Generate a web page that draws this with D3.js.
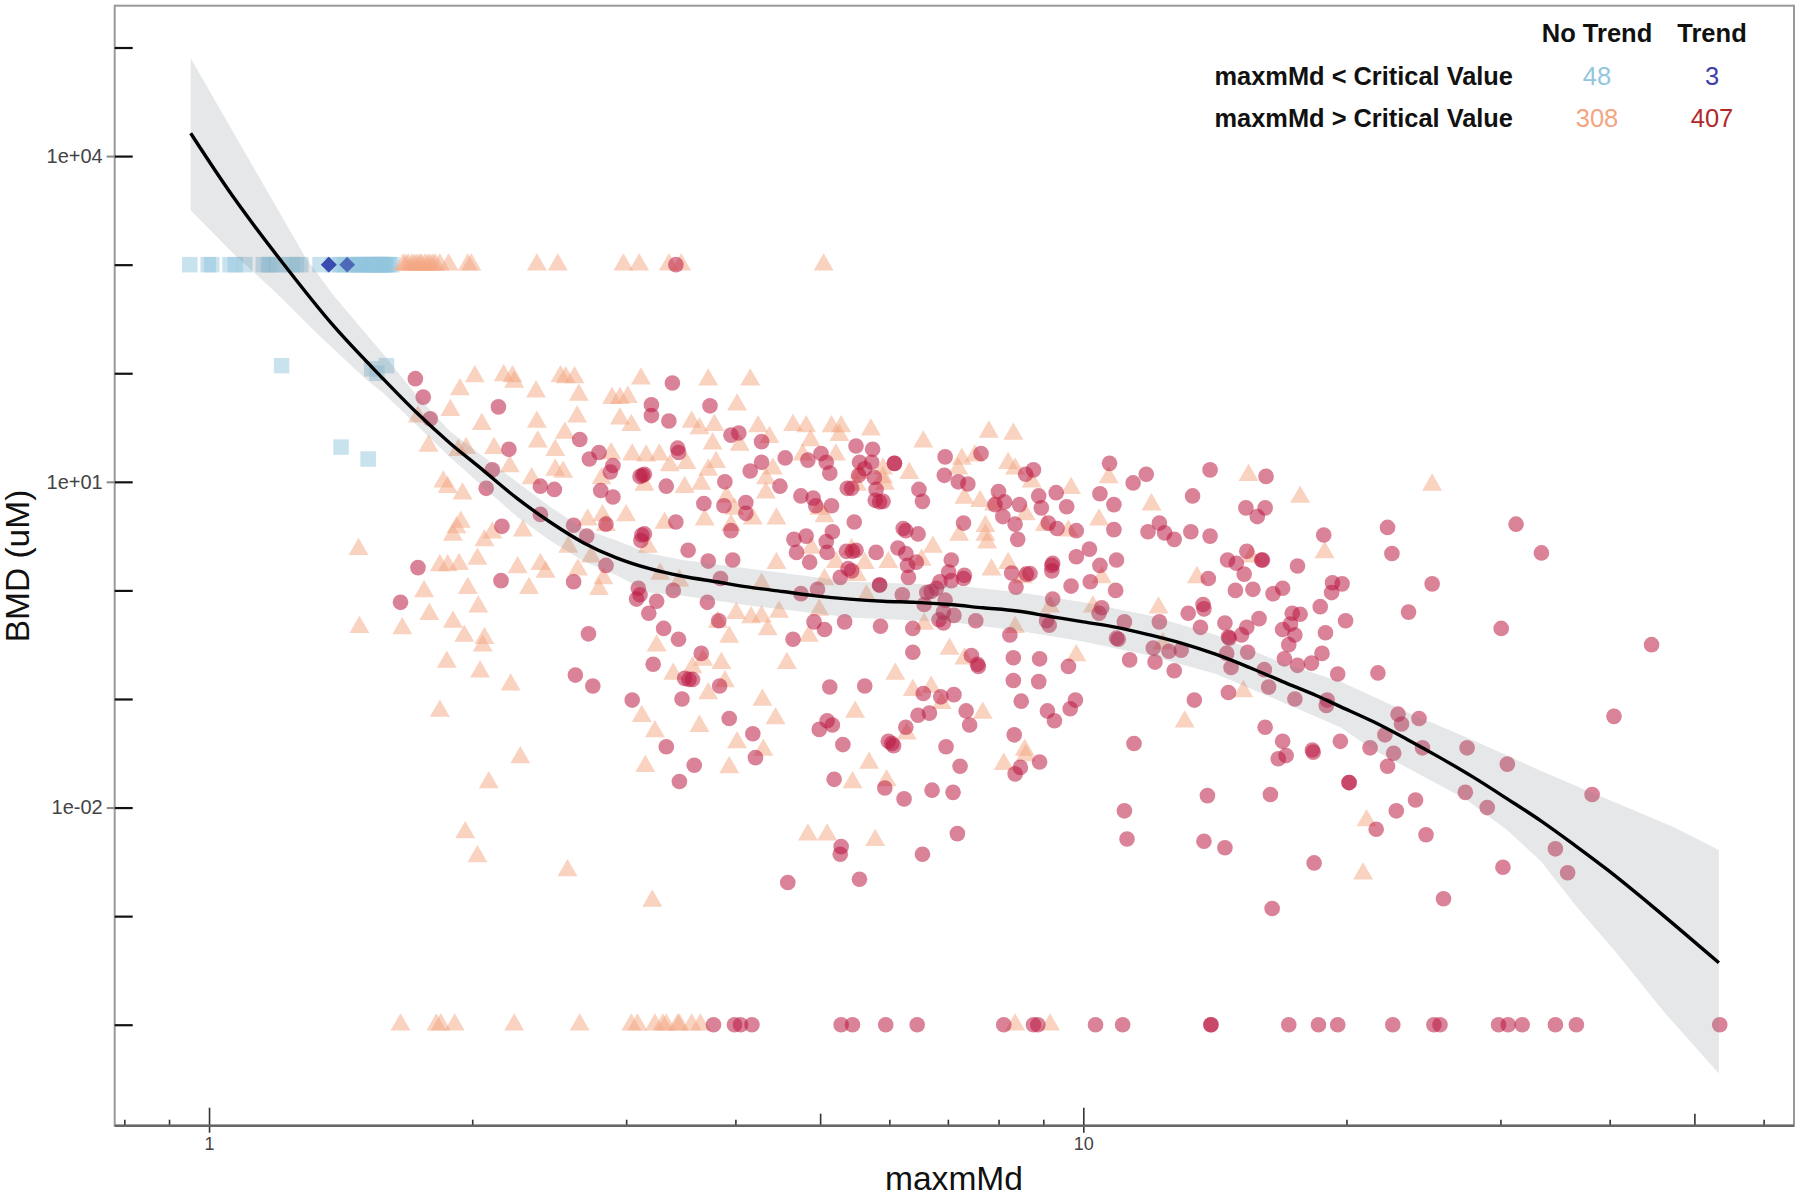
<!DOCTYPE html>
<html>
<head>
<meta charset="utf-8">
<script src="https://cdn.jsdelivr.net/npm/d3@7"></script>
<style>
  html, body { margin: 0; padding: 0; background: #fff; }
  svg { display: block; font-family: "Liberation Sans", Arial, sans-serif; }
</style>
</head>
<body>
<div id="chart"></div>
<script>
// every point is [log10 maxmMd, log10 BMD]
var noTrendLowRow = [-.022,-.001,.003,.024,.030,.041,.062,.068,.070,.077,.087,.095,.100,.105,.127,.142,.150,.155,.160,.165,.170,.173,.176,.180,.183,.186,.189,.192,.195,.197,.200,.203,.206,.209,.172,.188,.194,.201];
var noTrendLowOff = [[.083,2.07],[.186,2.04],[.192,2.0],[.203,2.07],[.151,1.32],[.182,1.21]];
var trendLowRow = [.137,.137,.158];

var noTrendHighTopRow = [.222,.225,.228,.232,.235,.238,.241,.243,.247,.250,.253,.256,.259,.264,.274,.296,.300,.375,.399,.474,.492,.526,.540,.703];
var noTrendHighBottomRow = [.219,.260,.265,.281,.349,.424,.483,.490,.510,.519,.523,.536,.538,.552,.562,.922,.962];
var trendHighTopRow = [.534];
var trendHighBottomRow = [.577,.601,.608,.621,.723,.736,.774,.810,.909,.943,.948,1.014,1.045,1.146,1.146,1.235,1.269,1.291,1.354,1.401,1.408,1.475,1.486,1.502,1.540,1.564,1.728];

var noTrendHigh = [
  [.304,1.97],[.337,1.98],[.347,1.97],[.349,1.92],[.402,1.97],[.408,1.96],[.418,1.96],[.494,1.95],[.571,1.94],[.619,1.94],
  [.287,1.85],[.374,1.83],[.423,1.80],[.461,1.77],[.470,1.77],[.479,1.78],[.604,1.71],[.276,1.66],[.239,1.60],[.312,1.53],
  [.375,1.55],[.421,1.60],[.407,1.45],[.376,1.37],[.470,1.58],[.483,1.52],[.552,1.55],[.561,1.49],[.578,1.52],[.628,1.51],
  [.641,1.41],[.576,1.35],[.607,1.34],[.668,1.52],[.683,1.51],[.712,1.51],[.723,1.51],[.721,1.43],[.688,1.38],[.251,1.33],
  [.294,1.31],[.285,1.29],[.326,1.31],[.396,1.29],[.344,1.14],[.460,1.26],[.484,1.25],[.500,1.24],[.515,1.25],[.527,1.15],
  [.546,1.17],[.580,1.18],[.571,1.11],[.679,1.25],[.717,1.25],[.645,1.12],[.637,1.03],[.396,1.11],[.405,1.09],[.369,1.03],
  [.449,1.03],[.268,1.00],[.273,.95],[.290,.89],[.498,.97],[.544,.95],[.563,.98],[.592,.86],[.637,.90],[.601,.75],
  [.622,.66],[.649,.66],[.704,.68],[.698,.75],[.288,.63],[.283,.58],[.279,.51],[.324,.53],[.315,.46],[.359,.55],
  [.433,.65],[.450,.69],[.477,.69],[.454,.60],[.521,.62],[.567,.65],[.597,.60],[.502,.40],[.411,.40],[.689,.39],
  [.437,.31],[.264,.23],[.273,.23],[.286,.24],[.307,.29],[.353,.21],[.379,.24],[.385,.17],[.422,.19],[.649,.25],
  [.632,.06],[.717,.26],[.704,.10],[.516,.15],[.538,.09],[.451,.11],[.246,-.01],[.296,.02],[.366,.02],[.446,.01],
  [.308,-.15],[.252,-.22],[.279,-.29],[.221,-.35],[.292,-.42],[.315,-.44],[.313,-.51],[.603,-.21],[.620,-.25],[.632,-.24],
  [.652,-.20],[.698,-.18],[.639,-.36],[.595,-.43],[.686,-.42],[.582,-.29],[.512,-.51],[.565,-.64],[.586,-.67],[.661,-.67],
  [.272,-.66],[.310,-.75],[.345,-.87],[.531,-.77],[.553,-.71],[.590,-.84],[.571,-.95],[.633,-1.01],[.171,.38],[.172,-.34],
  [.757,1.48],[.817,1.37],[.892,1.46],[.920,1.44],[.801,1.08],[.861,1.21],[.857,1.12],[.876,1.24],[.914,1.17],[.922,1.12],
  [.941,1.00],[.986,.94],[1.029,1.04],[1.078,.79],[1.189,1.06],[1.248,.86],[.864,.85],[.882,.82],[.898,.79],[.934,.70],
  [1.018,.65],[.956,.60],[.983,.55],[.888,.59],[.858,.51],[.888,.51],[.890,.44],[.771,1.12],[.771,1.04],[.773,.98],
  [.744,1.08],[.741,.97],[.828,.40],[.735,.38],[.750,.25],[.777,.26],[.815,.28],[.914,.25],[.895,.19],[.741,.14],
  [1.276,.35],[1.192,.31],[1.130,.12],[1.021,.12],[.931,.12],[.752,-.05],[.962,-.15],[1.011,-.15],[1.086,-.16],[.818,-.31],
  [.922,-.34],[.847,-.54],[.864,-.63],[.992,-.60],[1.091,-.49],[1.183,-.93],[.785,-.77],[.805,-.92],[.826,-.89],[.838,-1.04],
  [.739,-1.12],[.885,-1.13],[.798,-1.32],[1.116,-1.21],[.933,-1.47],[.264,-1.11],[.356,-1.54],[.320,-1.77],[.293,-2.23],[.307,-2.45],
  [.410,-2.58],[.507,-2.86],[.495,-1.16],[.510,-1.30],[.561,-1.25],[.648,-1.18],[.604,-1.40],[.634,-1.47],[.499,-1.62],[.595,-1.63],
  [.755,-1.59],[.736,-1.77],[.775,-1.75],[.685,-2.25],[.707,-2.25],[.762,-2.30],[.909,-1.60],[.934,-1.52],[1.324,-2.12],[1.320,-2.61],
  [1.399,.97]
];

var trendHigh = [
  [.236,1.95],[.245,1.78],[.253,1.58],[.331,1.69],[.343,1.30],[.324,1.11],[.317,.94],[.379,.96],[.395,.93],[.379,.70],
  [.335,.59],[.239,.21],[.334,.09],[.219,-.11],[.417,.08],[.432,.50],[.417,.60],[.454,.61],[.454,.23],[.434,-.40],
  [.419,-.78],[.439,-.88],[.484,-1.01],[.424,1.39],[.446,1.27],[.435,1.21],[.462,1.15],[.459,1.09],[.448,.92],[.462,.86],
  [.496,1.06],[.493,1.05],[.498,1.07],[.523,.96],[.530,1.91],[.506,1.71],[.506,1.61],[.526,1.56],[.573,1.70],[.536,1.31],
  [.537,1.27],[.590,1.00],[.566,.80],[.589,.78],[.614,.81],[.614,.71],[.597,.55],[.597,1.43],[.606,1.45],[.632,1.37],
  [.632,1.18],[.619,1.10],[.653,.96],[.659,1.22],[.685,1.20],[.700,1.26],[.706,1.18],[.710,1.08],[.677,.87],[.691,.85],
  [.694,.78],[.712,.78],[.730,.94],[.713,.54],[.669,.47],[.683,.50],[.672,.35],[.687,.26],[.706,.45],[.707,.35],
  [.729,.36],[.722,.12],[.731,.20],[.495,.51],[.498,.52],[.494,.46],[.534,.63],[.548,.37],[.571,.27],[.599,.28],
  [.585,.11],[.531,.00],[.491,.02],[.493,-.04],[.489,-.08],[.512,-.10],[.503,-.21],[.520,-.35],[.537,-.45],[.570,-.11],
  [.583,-.28],[.563,-.58],[.508,-.68],[.544,-.81],[.549,-.82],[.553,-.82],[.584,-.88],[.668,-.45],[.710,-.89],[.692,-.29],
  [.704,-.36],[.727,-.29],[.677,-.03],[.696,.01],[.541,-1.00],
  [.740,1.33],[.759,1.30],[.784,1.17],[.784,1.17],[.744,1.18],[.758,1.18],[.750,1.12],[.743,1.06],[.761,1.04],[.735,.94],
  [.763,.93],[.762,.83],[.767,.815],[.771,.82],[.842,1.23],[.841,1.06],[.883,1.26],[.857,1.00],[.868,.98],[.812,.93],
  [.816,.82],[.738,.63],[.863,.62],[.794,.57],[.797,.55],[.811,.52],[.903,.91],[.910,.815],[.927,.79],[.899,.79],
  [.908,.68],[.922,.61],[.925,.47],[.934,1.07],[.943,1.11],[.949,.87],[.969,.90],[.952,.76],[.981,.77],[.960,.62],
  [.970,.57],[.992,.55],[1.030,1.17],[1.057,.99],[1.072,1.07],[1.019,.89],[1.035,.79],[1.035,.56],[1.145,1.11],[1.125,.87],
  [1.209,1.05],[1.186,.76],[1.208,.76],[1.199,.68],[1.074,.54],[1.087,.62],[1.093,.53],[1.104,.47],[1.123,.54],[1.145,.50],
  [1.275,.51],[.740,.37],[.736,.36],[.763,.35],[.788,.39],[.797,.34],[.799,.23],[.800,.12],[.809,.26],[.735,.18],
  [.849,.28],[.846,.17],[.849,.09],[.864,.14],[.863,.11],[.918,.16],[.935,.15],[.939,.155],[.923,.03],[.964,.23],
  [.965,.25],[.964,.18],[.992,.31],[1.007,.38],[1.038,.28],[1.019,.23],[1.008,.08],[.986,.04],[1.037,.00],[1.165,.28],
  [1.175,.25],[1.187,.36],[1.204,.28],[1.205,.28],[1.184,.15],[1.245,.225],[1.143,.11],[1.174,.00],[1.194,.01],[1.217,-.03],
  [1.228,.02],[1.285,.07],[1.296,.06],[1.284,-.02],[.767,.05],[.767,.05],[.793,-.04],[.836,.08],[.832,.02],[.826,-.01],
  [.821,-.02],[.842,-.09],[.818,-.13],[.840,-.20],[.852,-.23],[.835,-.27],[.840,-.30],[.877,-.28],[.805,-.35],[.768,-.33],
  [.965,-.08],[.958,-.28],[.961,-.32],[1.021,-.16],[1.018,-.21],[1.047,-.29],[1.087,-.29],[1.120,-.21],[1.137,-.13],[1.138,-.17],
  [1.134,-.34],[1.162,-.30],[1.166,-.43],[1.167,-.44],[1.187,-.34],[1.181,-.41],[1.201,-.26],[1.271,-.15],[1.239,-.21],[1.248,-.22],
  [1.237,-.31],[1.228,-.36],[1.242,-.41],[1.235,-.50],[1.277,-.39],[1.300,-.28],[.916,-.41],[1.040,-.45],[1.038,-.44],[1.080,-.53],
  [1.098,-.56],[1.112,-.55],[1.053,-.64],[1.082,-.66],[1.104,-.74],[1.164,-.58],[1.169,-.71],[1.188,-.57],[1.207,-.73],[1.212,-.89],
  [1.242,-1.00],[1.230,-.63],[1.245,-.69],[1.261,-.67],[1.273,-.58],[1.291,-.77],[.805,-.57],[.872,-.60],[.880,-.70],[.879,-.68],
  [.920,-.62],[.950,-.63],[.983,-.70],[.920,-.83],[.949,-.84],[.929,-1.02],[.959,-1.11],[.967,-1.20],[.985,-1.09],[.991,-1.01],
  [.750,-.88],[.817,-.95],[.837,-.98],[.852,-.96],[.811,-1.15],[.824,-1.13],[.866,-1.11],[.870,-1.24],[.797,-1.26],[.777,-1.39],
  [.781,-1.41],[.783,-1.43],[.843,-1.44],[.921,-1.33],[1.127,-1.01],[1.166,-.94],[1.279,-1.01],[1.278,-1.06],[1.208,-1.26],[1.228,-1.39],
  [1.294,-1.39],[1.058,-1.41],[1.262,-1.47],[1.263,-1.49],
  [.595,-1.18],[.622,-1.32],[.523,-1.44],[.555,-1.61],[.538,-1.76],[.625,-1.54],[.707,-1.20],[.713,-1.24],[.698,-1.28],[.725,-1.42],
  [.715,-1.74],[.773,-1.82],[.795,-1.92],[.827,-1.84],[.723,-2.36],[.722,-2.43],[.816,-2.43],[.662,-2.69],[.744,-2.66],
  [.859,-1.62],[.851,-1.86],[.856,-2.24],[.928,-1.63],[.922,-1.69],[.950,-1.58],[1.047,-2.03],[1.050,-2.29],[1.142,-1.89],[1.138,-2.31],
  [1.162,-2.37],[1.214,-1.88],[1.216,-2.93],[1.223,-1.55],[1.232,-1.52],[1.304,-1.77],[1.304,-1.77],[1.328,-1.45],[1.355,-1.50],[1.348,-1.62],
  [1.358,-2.03],[1.335,-2.20],[1.264,-2.51],
  [1.348,.58],[1.353,.34],[1.495,.61],[1.524,.345],[1.399,.06],[1.372,-.20],[1.478,-.35],[1.650,-.50],[1.337,-.76],[1.607,-1.16],
  [1.360,-1.14],[1.364,-1.23],[1.384,-1.18],[1.345,-1.33],[1.388,-1.45],[1.439,-1.45],[1.485,-1.60],[1.437,-1.86],[1.462,-2.00],[1.582,-1.88],
  [1.380,-1.93],[1.392,-2.25],[1.540,-2.38],[1.480,-2.55],[1.554,-2.60],[1.412,-2.84]
];

var fitLine = [
  [-.021,4.21],[.028,3.62],[.081,3.05],[.142,2.44],[.199,1.95],[.237,1.64],[.275,1.36],[.313,1.11],
  [.352,.85],[.390,.63],[.428,.44],[.466,.30],[.504,.20],[.542,.13],[.580,.08],[.618,.03],[.656,-.01],[.694,-.05],
  [.733,-.08],[.771,-.10],[.809,-.11],[.847,-.13],[.885,-.16],[.924,-.19],[.962,-.24],[1.0,-.29],[1.038,-.34],[1.076,-.41],
  [1.114,-.49],[1.152,-.59],[1.190,-.71],[1.228,-.84],[1.267,-.97],[1.294,-1.07],[1.332,-1.21],[1.370,-1.37],[1.408,-1.54],[1.446,-1.72],
  [1.485,-1.92],[1.523,-2.12],[1.561,-2.34],[1.599,-2.57],[1.651,-2.91],[1.727,-3.43]
];
var ribbonUpper = [
  [-.021,4.90],[.047,3.95],[.110,3.07],[.142,2.72],[.180,2.36],[.199,2.18],[.237,1.80],[.275,1.47],[.352,1.00],[.390,.77],[.428,.57],
  [.466,.46],[.504,.34],[.542,.28],[.618,.20],[.694,.12],[.733,.08],[.847,.05],[.924,-.015],[1.0,-.11],[1.076,-.23],
  [1.152,-.41],[1.228,-.67],[1.294,-.84],[1.370,-1.12],[1.446,-1.38],[1.523,-1.66],[1.599,-1.92],[1.675,-2.18],[1.727,-2.39]
];
var ribbonLower = [
  [-.021,3.50],[.028,3.10],[.077,2.74],[.123,2.37],[.180,1.94],[.199,1.82],[.275,1.23],[.352,.68],[.390,.46],[.428,.27],[.466,.14],
  [.504,-.02],[.542,-.05],[.618,-.14],[.694,-.21],[.733,-.25],[.847,-.29],[.924,-.37],[1.0,-.47],[1.076,-.60],[1.152,-.77],
  [1.228,-1.03],[1.294,-1.26],[1.332,-1.47],[1.370,-1.63],[1.437,-1.92],[1.485,-2.21],[1.523,-2.49],[1.565,-2.92],[1.608,-3.32],[1.665,-3.89],[1.727,-4.45]
];

var yTickValues = [1e5, 1e4, 1e3, 1e2, 1e1, 1e0, 1e-1, 1e-2, 1e-3, 1e-4];
var yLabelValues = [1e4, 1e1, 1e-2];
var yLabelText = ["1e+04", "1e+01", "1e-02"];
var xMinorTicks = [.8, .9, 2, 3, 4, 6, 7, 8, 9, 20, 30, 40, 60];
var xMediumTicks = [5, 50];
var xMajorTicks = [1, 10];

var legendCols = ["No Trend", "Trend"];
var legendRows = ["maxmMd < Critical Value", "maxmMd > Critical Value"];
var legendCounts = [["48", "3"], ["308", "407"]];
var legendColors = [["#92c5de", "#4040a8"], ["#f4a582", "#b2282b"]];

var width = 1800, height = 1197;
var left = 114.7, right = 1794, top_ = 5.7, bottom = 1125.7;

var x = d3.scaleLog().domain([0.78, 65]).range([left, right]);
var y = d3.scaleLog().domain([Math.pow(10, 5.385), Math.pow(10, -4.93)]).range([top_, bottom]);

var svg = d3.select("#chart").append("svg").attr("width", width).attr("height", height);

var pow = function(d) { return [Math.pow(10, d[0]), Math.pow(10, d[1])]; };
var px = function(d) { var p = pow(d); return [x(p[0]), y(p[1])]; };
var onRow = function(row, level) { return row.map(function(v) { return [v, level]; }); };

var drawSymbols = function(points, type, size, fill, opacity, extra) {
  svg.append("g").selectAll("path")
    .data(points)
    .enter()
    .append("path")
    .attr("d", d3.symbol().type(type).size(size))
    .attr("transform", function(d) {
      var p = px(d);
      return "translate(" + p[0] + "," + p[1] + ")" + (extra || "");
    })
    .attr("fill", fill)
    .attr("fill-opacity", opacity);
};

drawSymbols(onRow(noTrendLowRow, 3).concat(noTrendLowOff), d3.symbolSquare, 240, "#92c5de", 0.5);
drawSymbols(onRow(trendLowRow, 3), d3.symbolSquare, 125, "#2b3ba8", 0.68, " rotate(45)");
drawSymbols(noTrendHigh.concat(onRow(noTrendHighTopRow, 3), onRow(noTrendHighBottomRow, -4)), d3.symbolTriangle, 172, "#f4a582", 0.5);
drawSymbols(trendHigh.concat(onRow(trendHighTopRow, 3), onRow(trendHighBottomRow, -4)), d3.symbolCircle, 192, "#ba1840", 0.54);

// confidence band on top of the points, then the fit
svg.append("path")
  .attr("d", d3.line().curve(d3.curveLinearClosed)(ribbonUpper.concat(ribbonLower.slice().reverse()).map(px)))
  .attr("fill", "#82878a")
  .attr("fill-opacity", 0.2);

svg.append("path")
  .attr("d", d3.line().curve(d3.curveCatmullRom)(fitLine.map(px)))
  .attr("fill", "none")
  .attr("stroke", "#000")
  .attr("stroke-width", 3.4);

// frame
svg.append("rect")
  .attr("x", left).attr("y", top_)
  .attr("width", right - left).attr("height", bottom - top_)
  .attr("fill", "none").attr("stroke", "#9a9a9a").attr("stroke-width", 2);

var xAxisAt = "translate(0," + bottom + ")";
var plain = function(g) {
  g.select(".domain").remove();
  g.selectAll("text").remove();
};
svg.append("g").attr("transform", xAxisAt)
  .call(d3.axisBottom(x).tickValues(xMinorTicks).tickSize(-6)).call(plain)
  .selectAll("line").attr("stroke", "#333").attr("stroke-width", 1.6);
svg.append("g").attr("transform", xAxisAt)
  .call(d3.axisBottom(x).tickValues(xMediumTicks).tickSize(-12)).call(plain)
  .selectAll("line").attr("stroke", "#333").attr("stroke-width", 1.6);

var xMajor = svg.append("g").attr("transform", xAxisAt)
  .call(d3.axisBottom(x).tickValues(xMajorTicks).tickSize(7).tickPadding(5).tickFormat(d3.format("d")));
xMajor.select(".domain").remove();
xMajor.selectAll("line").attr("y1", -18).attr("stroke", "#333").attr("stroke-width", 1.6);
xMajor.selectAll("text").attr("font-size", 18).attr("font-family", "Liberation Sans").attr("fill", "#444");

svg.append("line")
  .attr("x1", left).attr("x2", right).attr("y1", bottom).attr("y2", bottom)
  .attr("stroke", "#666").attr("stroke-width", 2.4);

var yInner = svg.append("g").attr("transform", "translate(" + left + ",0)")
  .call(d3.axisRight(y).tickValues(yTickValues).tickSize(18)).call(plain);
yInner.selectAll("line").attr("stroke", "#111").attr("stroke-width", 2.2);

var yLabels = svg.append("g").attr("transform", "translate(" + left + ",0)")
  .call(d3.axisLeft(y).tickValues(yLabelValues).tickSize(8).tickPadding(4)
    .tickFormat(function(d, i) { return yLabelText[i]; }));
yLabels.select(".domain").remove();
yLabels.selectAll("line").attr("stroke", "#888").attr("stroke-width", 2);
yLabels.selectAll("text").attr("font-size", 20).attr("font-family", "Liberation Sans").attr("fill", "#444");

svg.append("text")
  .attr("x", 954).attr("y", 1190)
  .attr("text-anchor", "middle").attr("font-size", 33.6).attr("fill", "#111")
  .text("maxmMd");

svg.append("text")
  .attr("transform", "translate(29,566) rotate(-90)")
  .attr("text-anchor", "middle").attr("font-size", 33.5).attr("fill", "#111")
  .text("BMD (uM)");

// count table in the corner
var colX = [1597, 1712], rowY = [85, 127], headerY = 42;
legendCols.forEach(function(name, i) {
  svg.append("text").attr("x", colX[i]).attr("y", headerY)
    .attr("text-anchor", "middle").attr("font-size", 25.5).attr("font-weight", "bold").attr("fill", "#111")
    .text(name);
});
legendRows.forEach(function(name, r) {
  svg.append("text").attr("x", 1513).attr("y", rowY[r])
    .attr("text-anchor", "end").attr("font-size", 25.4).attr("font-weight", "bold").attr("fill", "#111")
    .text(name);
  legendCounts[r].forEach(function(count, c) {
    svg.append("text").attr("x", colX[c]).attr("y", rowY[r])
      .attr("text-anchor", "middle").attr("font-size", 25.5).attr("fill", legendColors[r][c])
      .text(count);
  });
});
</script>
</body>
</html>
